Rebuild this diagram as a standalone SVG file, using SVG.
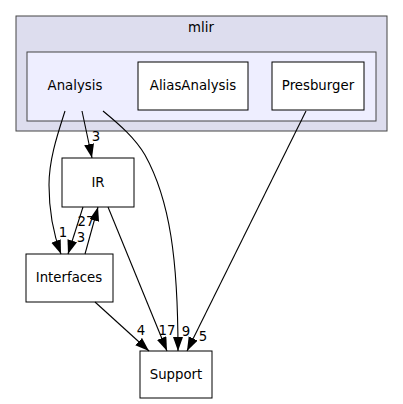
<svg xmlns="http://www.w3.org/2000/svg" width="403" height="404" viewBox="0 0 403 404">
<style>
text{font-family:"DejaVu Sans",sans-serif;font-size:13.3px;fill:#000}
.n{text-anchor:middle}
.node{fill:#fff;stroke:#000;stroke-width:1}
.e{fill:none;stroke:#000;stroke-width:1.1;marker-end:url(#ah)}
</style>
<defs>
<marker id="ah" markerUnits="userSpaceOnUse" markerWidth="15" markerHeight="11" refX="14" refY="5" orient="auto">
<path d="M0,0 L14,5 L0,10 z" fill="#000"/>
</marker>
</defs>
<rect width="403" height="404" fill="#fff"/>
<g id="cluster_mlir">
<rect x="16" y="16" width="371" height="115" fill="#ddddee" stroke="#444"/>
<text class="n" x="201" y="32">mlir</text>
</g>
<g id="cluster_Analysis">
<rect x="27" y="52" width="349" height="69" fill="#eeeeff" stroke="#444"/>
<text class="n" x="75" y="90">Analysis</text>
</g>
<g id="AliasAnalysis">
<rect class="node" x="138" y="62" width="110" height="48"/>
<text class="n" x="193" y="90">AliasAnalysis</text>
</g>
<g id="Presburger">
<rect class="node" x="272" y="62" width="92" height="48"/>
<text class="n" x="318" y="90">Presburger</text>
</g>
<g id="IR">
<rect class="node" x="62" y="158" width="72" height="49"/>
<text class="n" x="98" y="187">IR</text>
</g>
<g id="Interfaces">
<rect class="node" x="26" y="254" width="87" height="48"/>
<text class="n" x="69" y="282">Interfaces</text>
</g>
<g id="Support">
<rect class="node" x="140" y="351" width="72" height="47"/>
<text class="n" x="176" y="379">Support</text>
</g>
<g id="connectors">
<path class="e" d="M65,111 C57,136 49,160 49,185 C49,210 53,233 61,254"/>
<text class="n" x="63" y="237">1</text>
<path class="e" d="M82,111 L92,158"/>
<text class="n" x="96" y="141">3</text>
<path class="e" d="M103,111 C120,125 135,138 145,155 C170,200 178,260 178,351"/>
<text class="n" x="186" y="336">9</text>
<path class="e" d="M306,111 L187,351"/>
<text class="n" x="203" y="341">5</text>
<path class="e" d="M83,207 L68,254"/>
<text class="n" x="86" y="226">27</text>
<path class="e" d="M85,254 L98,207"/>
<text class="n" x="81" y="242">3</text>
<path class="e" d="M108,207 L167,351"/>
<text class="n" x="167" y="335">17</text>
<path class="e" d="M95,302 L149,351"/>
<text class="n" x="141" y="335">4</text>
</g>
</svg>
